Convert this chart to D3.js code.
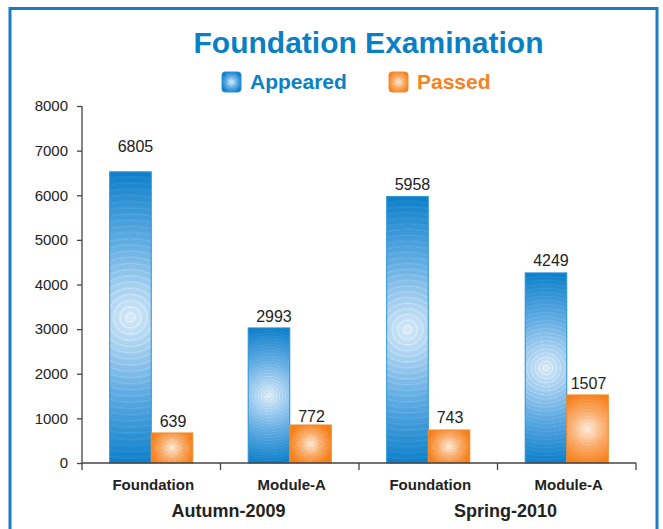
<!DOCTYPE html>
<html>
<head>
<meta charset="utf-8">
<script src="https://cdn.jsdelivr.net/npm/d3@7"></script>
<style>
  html, body { margin: 0; padding: 0; background: #fff; }
  svg { display: block; font-family: "Liberation Sans", Arial, sans-serif; }
</style>
</head>
<body>
<div id="chart"></div>
<script>
// Chart data
const categories = ["Foundation", "Module-A", "Foundation", "Module-A"];
const sessions = ["Autumn-2009", "Spring-2010"];
const series = ["Appeared", "Passed"];
// bar heights as drawn in the picture
const appeared = [6525, 3027, 5971, 4260];
const passed = [673, 852, 740, 1525];
// value labels printed above the bars
const appearedLabels = [6805, 2993, 5958, 4249];
const passedLabels = [639, 772, 743, 1507];
const yTicks = [0, 1000, 2000, 3000, 4000, 5000, 6000, 7000, 8000];

const W = 663, H = 529;
const colors = {
    Appeared: {edge: "#0b7cc6", mid: "#62abe0", center: "#d6e7f6", stroke: "#2a90d6", text: "#0a80c6"},
    Passed:   {edge: "#f4801c", mid: "#f8aa6a", center: "#fde6d5", stroke: "#f28a2c", text: "#f5821f"}
};

const svg = d3.select("#chart").append("svg")
    .attr("width", W)
    .attr("height", H);

const defs = svg.append("defs");

// Radial gradient with faint rings, like the original bars
function ringGradient(id, c, attrs) {
    const g = defs.append("radialGradient").attr("id", id);
    Object.entries(attrs).forEach(([k, v]) => g.attr(k, v));
    const interp = d3.scaleLinear().domain([0, 0.5, 1]).range([c.center, c.mid, c.edge]).interpolate(d3.interpolateRgb);
    const N = 24;
    for (let i = 0; i < N; i++) {
        const t0 = i / N, t1 = (i + 0.6) / N;
        const base = interp(t0);
        g.append("stop").attr("offset", t0).attr("stop-color", base);
        g.append("stop").attr("offset", t1).attr("stop-color", base);
        g.append("stop").attr("offset", t1).attr("stop-color", d3.color(base).brighter(0.2));
    }
    g.append("stop").attr("offset", 1).attr("stop-color", c.edge);
    return "url(#" + id + ")";
}

// Border
svg.append("rect")
    .attr("x", 10).attr("y", 8.5)
    .attr("width", 647).attr("height", H)
    .attr("fill", "none")
    .attr("stroke", "#1a7cc1")
    .attr("stroke-width", 3);

// Title
svg.append("text")
    .attr("x", 368.5).attr("y", 53)
    .attr("text-anchor", "middle")
    .attr("font-size", 30).attr("font-weight", "bold")
    .attr("fill", "#0a7fc4")
    .text("Foundation Examination");

// Legend
const legendX = [222, 389];
series.forEach((s, i) => {
    svg.append("rect")
        .attr("x", legendX[i]).attr("y", 72)
        .attr("width", 19).attr("height", 20)
        .attr("rx", 3)
        .attr("fill", ringGradient("leg" + i, colors[s], {cx: 0.5, cy: 0.5, r: 0.55}))
        .attr("stroke", colors[s].stroke);
    svg.append("text")
        .attr("x", legendX[i] + 28).attr("y", 88.5)
        .attr("font-size", 21).attr("font-weight", "bold")
        .attr("fill", colors[s].text)
        .text(s);
});

// Scales
const x0 = d3.scaleBand().domain(d3.range(categories.length)).range([82, 636]);
const pad = x0.bandwidth() * 0.2;
const x1 = d3.scaleBand().domain(series).range([pad, x0.bandwidth() - pad]);
const y = d3.scaleLinear().domain([0, 8000]).range([463, 106]);

// Y axis
const yAxis = svg.append("g")
    .attr("transform", "translate(82,0)")
    .call(d3.axisLeft(y).tickValues(yTicks).tickSize(5).tickPadding(9).tickFormat(d3.format("d")));
yAxis.select(".domain").remove();
yAxis.selectAll("line").attr("stroke", "#444").attr("stroke-width", 1.3);
yAxis.selectAll("text").attr("font-size", 15).attr("fill", "#222")
    .attr("font-family", "'Liberation Sans', Arial, sans-serif");
svg.append("line")
    .attr("x1", 82).attr("x2", 82)
    .attr("y1", y(8000)).attr("y2", 470)
    .attr("stroke", "#444").attr("stroke-width", 1.3);

// Bars
const data = categories.map((c, i) => ({
    i: i,
    values: [
        {key: "Appeared", v: appeared[i], label: appearedLabels[i], dx: 5},
        {key: "Passed", v: passed[i], label: passedLabels[i], dx: 1}
    ]
}));

const groups = svg.selectAll(".group")
    .data(data)
    .enter().append("g")
    .attr("class", "group")
    .attr("transform", d => "translate(" + x0(d.i) + ",0)");

groups.each(function(d) {
    const g = d3.select(this);
    d.values.forEach(b => {
        // coordinates local to the group
        const bx = x1(b.key);
        const bw = x1.bandwidth();
        const by = y(b.v);
        const bh = y(0) - y(b.v);
        const id = "bar" + d.i + b.key;
        const fill = ringGradient(id, colors[b.key], {
            gradientUnits: "userSpaceOnUse",
            cx: bx + bw / 2, cy: by + bh / 2,
            fx: bx + bw / 2, fy: by + bh / 2,
            r: Math.max(bw, bh) / 2 * 1.02
        });
        g.append("rect")
            .attr("x", bx)
            .attr("y", by)
            .attr("width", bw)
            .attr("height", bh)
            .attr("fill", fill)
            .attr("stroke", colors[b.key].stroke)
            .attr("stroke-width", 1);
        g.append("text")
            .attr("x", bx + bw / 2 + b.dx)
            .attr("y", y(b.label) - 7)
            .attr("text-anchor", "middle")
            .attr("font-size", 16)
            .attr("fill", "#222")
            .text(b.label);
    });
});

// X axis
svg.append("line")
    .attr("x1", 82).attr("x2", 636)
    .attr("y1", 463).attr("y2", 463)
    .attr("stroke", "#444").attr("stroke-width", 1.3);
const bounds = d3.range(categories.length).map(i => x0(i) + x0.bandwidth());
svg.selectAll(".xtick")
    .data(bounds)
    .enter().append("line")
    .attr("x1", d => d).attr("x2", d => d)
    .attr("y1", 463).attr("y2", 470)
    .attr("stroke", "#444").attr("stroke-width", 1.3);

svg.selectAll(".cat")
    .data(categories)
    .enter().append("text")
    .attr("x", (d, i) => x0(i) + x0.bandwidth() / 2 + 2)
    .attr("y", 490)
    .attr("text-anchor", "middle")
    .attr("font-size", 15).attr("font-weight", "bold")
    .attr("fill", "#222")
    .text(d => d);

svg.selectAll(".session")
    .data(sessions)
    .enter().append("text")
    .attr("x", (d, i) => x0(i * 2) + x0.bandwidth() + 8)
    .attr("y", 516.5)
    .attr("text-anchor", "middle")
    .attr("font-size", 18).attr("font-weight", "bold")
    .attr("fill", "#222")
    .text(d => d);
</script>
</body>
</html>
